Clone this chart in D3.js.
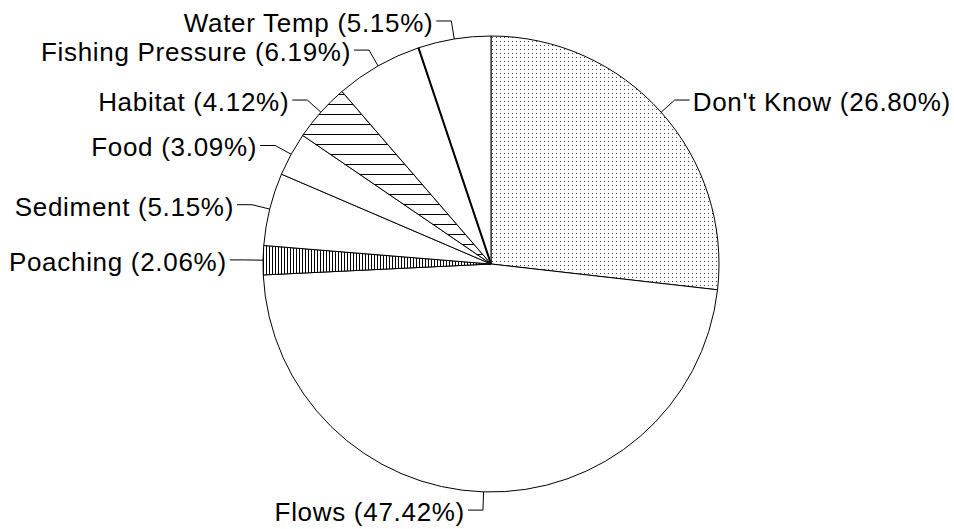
<!DOCTYPE html>
<html>
<head>
<meta charset="utf-8">
<script src="https://cdn.jsdelivr.net/npm/d3@7"></script>
<style>
  html, body { margin: 0; padding: 0; background: #fff; }
  svg text { font-family: "Liberation Sans", Arial, sans-serif; font-size: 26px; letter-spacing: 0.7px; fill: #000; }
</style>
</head>
<body>
<svg id="chart" width="954" height="529"></svg>
<script>
// slices, clockwise from 12 o'clock
const categories = ["Don't Know", "Flows", "Poaching", "Sediment", "Food", "Habitat", "Fishing Pressure", "Water Temp"];
const shares = [26.80, 47.42, 2.06, 5.15, 3.09, 4.12, 6.19, 5.15];

// fill style per category (everything else is plain white)
const patternFor = { "Don't Know": "dots", "Poaching": "vlines", "Habitat": "hlines" };

const width = 954, height = 529;
const cx = 491, cy = 264, r = 228;

const svg = d3.select('#chart');
const defs = svg.append('defs');

defs.append('pattern').attr('id', 'dots')
  .attr('patternUnits', 'userSpaceOnUse').attr('width', 4).attr('height', 4)
  .append('rect').attr('x', 1).attr('y', 1).attr('width', 1).attr('height', 1).attr('fill', '#444');

const vl = defs.append('pattern').attr('id', 'vlines')
  .attr('patternUnits', 'userSpaceOnUse').attr('width', 3).attr('height', 3);
vl.append('rect').attr('width', 3).attr('height', 3).attr('fill', '#fff');
vl.append('rect').attr('x', 0).attr('width', 1).attr('height', 3).attr('fill', '#000');

const hl = defs.append('pattern').attr('id', 'hlines')
  .attr('patternUnits', 'userSpaceOnUse').attr('width', 10).attr('height', 10);
hl.append('rect').attr('width', 10).attr('height', 10).attr('fill', '#fff');
hl.append('rect').attr('y', 0).attr('width', 10).attr('height', 1).attr('fill', '#000');

const data = categories.map((name, i) => ({ name, value: shares[i] }));

const pie = d3.pie().sort(null).value(d => d.value);
const arcs = pie(data);

const arc = d3.arc().innerRadius(0).outerRadius(r);

const g = svg.append('g').attr('transform', `translate(${cx},${cy})`);

g.selectAll('path.slice')
  .data(arcs)
  .enter()
  .append('path')
  .attr('class', 'slice')
  .attr('d', arc)
  .attr('fill', d => patternFor[d.data.name] ? `url(#${patternFor[d.data.name]})` : '#fff')
  .attr('stroke', '#000')
  .attr('stroke-width', 1);

// heavier edge between Fishing Pressure and Water Temp
const fp = arcs.find(d => d.data.name === 'Fishing Pressure');
g.append('line')
  .attr('x1', 0).attr('y1', 0)
  .attr('x2', r * Math.sin(fp.endAngle)).attr('y2', -r * Math.cos(fp.endAngle))
  .attr('stroke', '#000').attr('stroke-width', 2);

// leader lines + labels
const elbowR = r * 1.08;
const tail = 15;

arcs.forEach(d => {
  const a = (d.startAngle + d.endAngle) / 2;
  const ex = r * Math.sin(a), ey = -r * Math.cos(a);
  const bx = elbowR * Math.sin(a), by = -elbowR * Math.cos(a);
  const side = Math.sin(a) >= 0 ? 1 : -1;
  const tx = bx + side * tail;

  g.append('polyline')
    .attr('points', `${ex},${ey} ${bx},${by} ${tx},${by}`)
    .attr('fill', 'none')
    .attr('stroke', '#000')
    .attr('stroke-width', 1);

  g.append('text')
    .attr('x', tx + side * 3)
    .attr('y', by)
    .attr('dy', '0.42em')
    .attr('text-anchor', side > 0 ? 'start' : 'end')
    .text(`${d.data.name} (${d.data.value.toFixed(2)}%)`);
});
</script>
</body>
</html>
